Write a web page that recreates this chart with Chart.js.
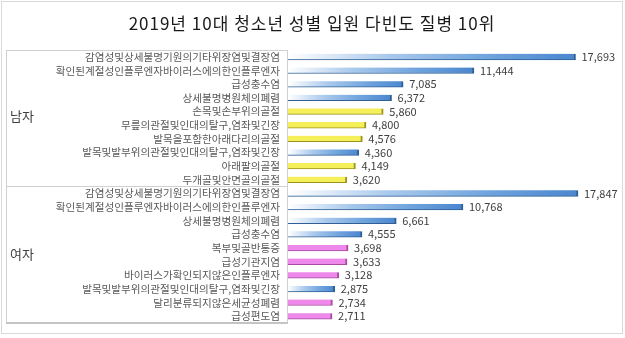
<!DOCTYPE html>
<html>
<head>
<meta charset="utf-8">
<script src="https://cdn.jsdelivr.net/npm/chart.js@4/dist/chart.umd.min.js"></script>
<style>
html,body{margin:0;padding:0;background:#fff;}
#wrap{width:625px;height:338px;position:relative;}
</style>
</head>
<body>
<div id="wrap"><canvas id="c" width="625" height="338"></canvas></div>
<script>
const chartTitle = '2019년 10대 청소년 성별 입원 다빈도 질병 10위';
const groupNames = ['남자', '여자'];
const maleCategories = [
  '감염성및상세불명기원의기타위장염및결장염',
  '확인된계절성인플루엔자바이러스에의한인플루엔자',
  '급성충수염',
  '상세불명병원체의폐렴',
  '손목및손부위의골절',
  '무릎의관절및인대의탈구,염좌및긴장',
  '발목을포함한아래다리의골절',
  '발목및발부위의관절및인대의탈구,염좌및긴장',
  '아래팔의골절',
  '두개골및안면골의골절'
];
const maleValues = [17693, 11444, 7085, 6372, 5860, 4800, 4576, 4360, 4149, 3620];
const femaleCategories = [
  '감염성및상세불명기원의기타위장염및결장염',
  '확인된계절성인플루엔자바이러스에의한인플루엔자',
  '상세불명병원체의폐렴',
  '급성충수염',
  '복부및골반통증',
  '급성기관지염',
  '바이러스가확인되지않은인플루엔자',
  '발목및발부위의관절및인대의탈구,염좌및긴장',
  '달리분류되지않은세균성폐렴',
  '급성편도염'
];
const femaleValues = [17847, 10768, 6661, 4555, 3698, 3633, 3128, 2875, 2734, 2711];
const xMax = 20000;

const labels = maleCategories.concat(femaleCategories);
const values = maleValues.concat(femaleValues);
const groupOf = labels.map((_, i) => i < maleCategories.length ? 0 : 1);
const common = labels.map(l => maleCategories.includes(l) && femaleCategories.includes(l));

const FONT = "'Noto Sans CJK KR', 'Noto Sans', sans-serif";

function barFill(ctx) {
  const chart = ctx.chart;
  const i = ctx.dataIndex;
  const xs = chart.scales.x;
  if (!xs || xs.width === undefined || i === undefined) return '#5b9bd5';
  const c = chart.ctx;
  const x0 = xs.getPixelForValue(0);
  const x1 = xs.getPixelForValue(values[i]);
  if (common[i]) {
    const g = c.createLinearGradient(x0, 0, x1, 0);
    g.addColorStop(0, '#ffffff');
    g.addColorStop(0.35, '#a9c9ec');
    g.addColorStop(0.7, '#6fa3dd');
    g.addColorStop(1, '#4a86cf');
    return g;
  }
  return groupOf[i] === 0 ? '#f5f05a' : '#ee88ea';
}
function barBorder(ctx) {
  const i = ctx.dataIndex;
  if (common[i]) return '#2f5f95';
  return groupOf[i] === 0 ? '#9c9420' : '#a64aa2';
}

const decor = {
  id: 'decor',
  beforeDraw(chart) {
    const c = chart.ctx;
    c.save();
    c.fillStyle = '#fff';
    c.fillRect(0, 0, chart.width, chart.height);
    c.strokeStyle = '#d9d9d9';
    c.lineWidth = 1;
    c.strokeRect(1.5, 1.5, 621, 332);
    c.fillStyle = '#1a1a1a';
    c.font = '17px ' + FONT;
    if ('letterSpacing' in c) c.letterSpacing = '1px';
    c.textAlign = 'center';
    c.textBaseline = 'middle';
    c.fillText(chartTitle, 312, 24);
    if ('letterSpacing' in c) c.letterSpacing = '0px';
    c.restore();
  },
  afterDraw(chart) {
    const c = chart.ctx;
    const ys = chart.scales.y;
    const a = chart.chartArea;
    const left = 6;
    const step = ys.getPixelForValue(1) - ys.getPixelForValue(0);
    const top = ys.getPixelForValue(0) - step / 2;
    const bottom = top + step * labels.length;
    const sep = top + step * maleCategories.length;
    c.save();
    c.strokeStyle = '#d0d0d0';
    c.lineWidth = 1;
    c.beginPath();
    c.moveTo(left + 0.5, top); c.lineTo(left + 0.5, bottom);
    c.moveTo(left, Math.round(top) + 0.5); c.lineTo(a.left, Math.round(top) + 0.5);
    c.moveTo(left, Math.round(sep) + 0.5); c.lineTo(a.left, Math.round(sep) + 0.5);
    c.moveTo(a.left - 0.5, top); c.lineTo(a.left - 0.5, bottom);
    c.stroke();
    c.strokeStyle = '#c4c4c4';
    c.lineWidth = 2;
    c.beginPath();
    c.moveTo(left, Math.round(bottom)); c.lineTo(a.left, Math.round(bottom));
    c.stroke();
    // group labels
    c.fillStyle = '#404040';
    c.font = '13px ' + FONT;
    c.textAlign = 'left';
    c.textBaseline = 'middle';
    c.fillText(groupNames[0], 10, (top + sep) / 2 - 2);
    c.fillText(groupNames[1], 10, (sep + bottom) / 2 - 1);
    // value labels
    const meta = chart.getDatasetMeta(0);
    c.font = '11px ' + FONT;
    c.fillStyle = '#404040';
    meta.data.forEach((bar, i) => {
      c.fillText(values[i].toLocaleString('en-US'), bar.x + 6, bar.y);
    });
    c.restore();
  }
};

new Chart(document.getElementById('c'), {
  type: 'bar',
  data: {
    labels: labels,
    datasets: [{
      data: values,
      backgroundColor: barFill,
      borderColor: barBorder,
      borderWidth: {top: 0, left: 0, right: 2, bottom: 1},
      borderSkipped: false,
      barThickness: 6
    }]
  },
  options: {
    indexAxis: 'y',
    responsive: false,
    animation: false,
    devicePixelRatio: 1,
    layout: {padding: {top: 50, bottom: 15, right: 12, left: 0}},
    plugins: {legend: {display: false}, tooltip: {enabled: false}, title: {display: false}},
    scales: {
      x: {
        display: false,
        min: 0,
        max: xMax
      },
      y: {
        grid: {display: false, drawTicks: false},
        border: {display: false},
        afterFit(scale) { scale.width = 288; },
        ticks: {
          autoSkip: false,
          padding: 8,
          color: '#595959',
          font: {family: FONT, size: 10.6}
        }
      }
    }
  },
  plugins: [decor]
});
</script>
</body>
</html>
